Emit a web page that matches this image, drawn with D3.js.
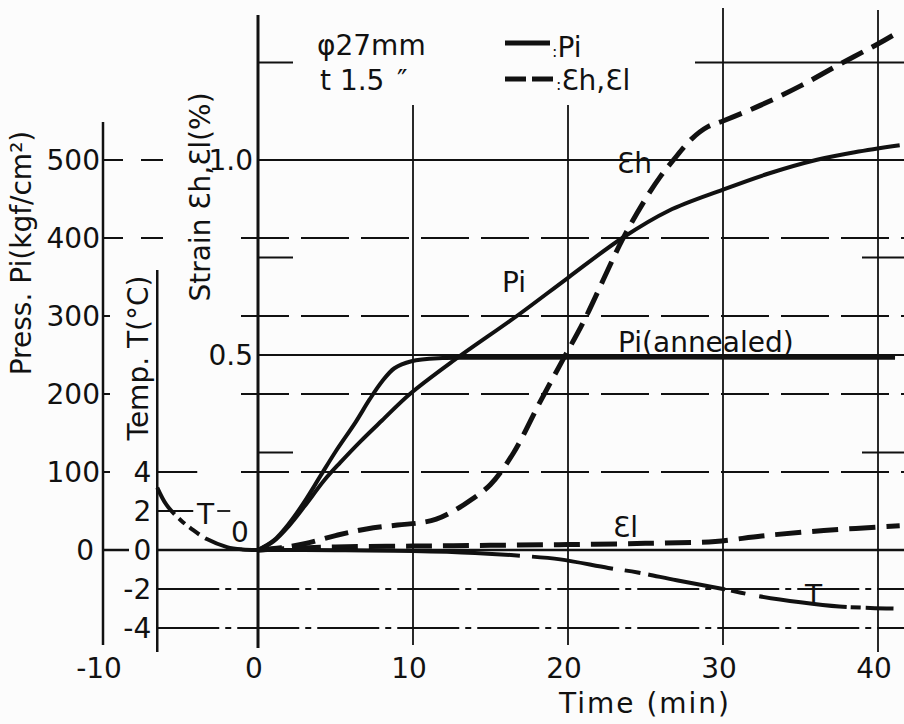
<!DOCTYPE html>
<html>
<head>
<meta charset="utf-8">
<script src="https://cdn.jsdelivr.net/npm/d3@7"></script>
<style>
	body { margin: 0; background: #fcfcfc; }
	svg text { font-family: "DejaVu Sans", sans-serif; fill: #111; font-size: 28px; }
</style>
</head>
<body>
<svg id="chart" width="904" height="724"></svg>
<script>
// tick values
var timeTicks = [-10, 0, 10, 20, 30, 40];
var pressTicks = [0, 100, 200, 300, 400, 500];
var tempTicks = [4, 2, 0, -2, -4];
var strainMajor = [0.5, 1.0];
var strainMinor = [0.25, 0.75, 1.25];

// Pi (kgf/cm2) vs time (min)
var piTime = [0, 1, 2, 3, 4.3, 5.3, 6.6, 8, 9.8, 12.7, 16.7, 20, 23.5, 26.5, 30, 33, 36, 38.5, 41.4];
var piVal  = [0, 11, 31, 56, 90, 112, 139, 166, 200, 244, 300, 349, 400, 435, 462, 483, 500, 510, 519];

// Pi (annealed)
var annTime = [0, 1, 2, 3, 4, 5, 6.3, 7.2, 8.0, 8.8, 9.9, 11.9, 14, 41.1];
var annVal  = [0, 12, 34, 62, 94, 126, 164, 193, 216, 233, 242, 246, 246.5, 246.5];

// hoop strain Eh (%)
var ehTime = [0, 1.5, 3, 5, 7, 9, 10.5, 11.5, 12.7, 13.8, 15, 16.5, 18.2, 19.7, 21, 23.5, 25, 26, 26.8, 28, 29, 30, 32.4, 35, 37.5, 40.1, 41.4];
var ehVal  = [0, 0.006, 0.016, 0.037, 0.054, 0.064, 0.07, 0.079, 0.102, 0.13, 0.168, 0.25, 0.38, 0.49, 0.585, 0.795, 0.9, 0.96, 1.0, 1.055, 1.085, 1.10, 1.14, 1.19, 1.245, 1.30, 1.33];

// axial strain El (%)
var elTime = [0, 2, 5, 10, 15, 20, 25, 29.5, 32.5, 36.5, 41.4];
var elVal  = [0, 0.004, 0.008, 0.01, 0.012, 0.014, 0.017, 0.022, 0.036, 0.05, 0.062];

// temperature T (deg C)
var tempTime = [-6.5, -5.9, -5.0, -4.2, -3.3, -2.0, -1.0, 0, 5, 10, 14, 17, 19.5, 22.6, 24.5, 27, 30, 32.2, 35, 37.5, 39.5, 41];
var tempVal  = [3.2, 2.31, 1.54, 1.03, 0.56, 0.15, 0.03, 0, -0.01, -0.05, -0.15, -0.3, -0.48, -0.92, -1.15, -1.55, -2.0, -2.35, -2.68, -2.9, -2.97, -3.0];

var svg = d3.select('#chart');
var ink = '#111';

// scales
var x = d3.scaleLinear().domain([-10, 40]).range([103, 878]);
var yP = d3.scaleLinear().domain([0, 500]).range([550, 160]);
var yS = d3.scaleLinear().domain([0, 1]).range([550, 160]);
var yT = d3.scaleLinear().domain([-4, 4]).range([628, 472]);

var right = 904;
var x0 = x(0);
var xPress = x(-10);
var xTemp = x(-6.5);

function hline(g, y, x1, x2, w, dash) {
	g.append('line')
		.attr('x1', x1).attr('x2', x2)
		.attr('y1', y).attr('y2', y)
		.attr('stroke', ink)
		.attr('stroke-width', w)
		.attr('stroke-dasharray', dash || null);
}
function vline(g, xv, y1, y2, w) {
	g.append('line')
		.attr('x1', xv).attr('x2', xv)
		.attr('y1', y1).attr('y2', y2)
		.attr('stroke', ink)
		.attr('stroke-width', w);
}

var grid = svg.append('g');

// horizontal grid
pressTicks.filter(function(d) { return d > 0 && d < 500; }).forEach(function(d) {
	hline(grid, yP(d), 241, right, 1.8, '48,12');
	hline(grid, yP(d), xPress, xPress + 7, 2);
});
[400, 500].forEach(function(d) {
	hline(grid, yP(d), xPress, xPress + 20, 2);
	hline(grid, yP(d), xPress + 38, xPress + 60, 2);
});
strainMajor.forEach(function(d) {
	hline(grid, yS(d), x0, right, 1.8);
});
strainMinor.forEach(function(d) {
	hline(grid, yS(d), x0, x0 + 35, 1.8);
	if (d < 1) hline(grid, yS(d), x(40) - 16, right, 1.8);
	else hline(grid, yS(d), 695, right, 1.8);
});
// zero line
hline(grid, yP(0), xPress, xPress + 26, 2.5);
hline(grid, yP(0), xTemp, right, 2.5);
// temperature ticks
hline(grid, yT(4), xTemp, xTemp + 40, 1.8);
hline(grid, yT(2), xTemp, xTemp + 36, 1.8);
hline(grid, yT(2), xTemp + 60, xTemp + 73, 1.8);
[-2, -4].forEach(function(d) {
	hline(grid, yT(d), xTemp, right, 1.8, '62,6,6,6');
});

// vertical lines
vline(grid, xPress, 122, 645, 2.5);
vline(grid, xTemp, 270, 652, 2.5);
vline(grid, x0, 15, 648, 3);
[10, 20].forEach(function(d) { vline(grid, x(d), 105, 645, 1.8); });
vline(grid, x(30), 8, 645, 1.8);
vline(grid, x(40), 10, 652, 1.8);

// tick labels
svg.append('g').selectAll('text')
	.data(pressTicks).enter()
	.append('text')
		.attr('x', function(d) { return d === 0 ? xPress - 9 : xPress - 3; })
		.attr('y', function(d) { return yP(d); })
		.attr('dy', '0.36em')
		.attr('text-anchor', 'end')
		.text(function(d) { return d; });

svg.append('g').selectAll('text')
	.data(tempTicks).enter()
	.append('text')
		.attr('x', xTemp - 6)
		.attr('y', function(d) { return yT(d); })
		.attr('dy', '0.36em')
		.attr('text-anchor', 'end')
		.text(function(d) { return d; });

svg.append('g').selectAll('text')
	.data(strainMajor).enter()
	.append('text')
		.attr('x', x0 - 5)
		.attr('y', function(d) { return yS(d); })
		.attr('dy', '0.36em')
		.attr('text-anchor', 'end')
		.text(function(d) { return d.toFixed(1); });

svg.append('g').selectAll('text')
	.data(timeTicks).enter()
	.append('text')
		.attr('x', function(d) { return x(d) - 4; })
		.attr('y', 678)
		.attr('text-anchor', 'middle')
		.text(function(d) { return d; });

svg.append('text')
	.attr('x', 645).attr('y', 713)
	.attr('text-anchor', 'middle')
	.attr('font-size', 30)
	.style('letter-spacing', '2px')
	.text('Time (min)');

// axis titles
function vtitle(tx, ty, s) {
	svg.append('text')
		.attr('transform', 'translate(' + tx + ',' + ty + ') rotate(-90)')
		.attr('text-anchor', 'middle')
		.text(s);
}
vtitle(31, 253, 'Press. Pi(kgf/cm²)');
vtitle(148, 358, 'Temp. T(°C)');
vtitle(210, 197, 'Strain Ɛh,Ɛl(%)');

// curves
function zip(t, v) { return t.map(function(d, i) { return [d, v[i]]; }); }

function curve(data, yScale, w, dash) {
	var line = d3.line()
		.x(function(d) { return x(d[0]); })
		.y(function(d) { return yScale(d[1]); })
		.curve(d3.curveCatmullRom.alpha(0.5));
	svg.append('path')
		.datum(data)
		.attr('fill', 'none')
		.attr('stroke', ink)
		.attr('stroke-width', w)
		.attr('stroke-linecap', 'butt')
		.attr('stroke-dasharray', dash || null)
		.attr('d', line);
}

curve(zip(piTime, piVal), yP, 4);
curve(zip(annTime, annVal), yP, 4);
curve(zip(ehTime, ehVal), yS, 5, '24,10');
curve(zip(elTime, elVal), yS, 5, '26,11');
var temp = zip(tempTime, tempVal);
curve(temp.filter(function(d) { return d[0] <= 0; }), yT, 4, '32,6,8,6,12,7,200');
curve(temp.filter(function(d) { return d[0] >= 0; }), yT, 4, '262,12,82,12,16,8,78,6,15,14,88,4,10,5,40');

// annotations
function label(tx, ty, s, size) {
	svg.append('text')
		.attr('x', tx).attr('y', ty)
		.attr('font-size', size || 28)
		.text(s);
}
label(317, 55, 'φ27mm');
label(320, 90, 't 1.5');
label(397, 90, '″');
label(502, 292, 'Pi');
label(618, 352, 'Pi(annealed)');
label(617, 173, 'Ɛh');
label(613, 537, 'Ɛl');
label(805, 605, 'T', 27);
label(197, 524, 'T', 27);
label(231, 542, '0', 27);

// legend
hline(svg, 43, 505, 550, 5);
hline(svg, 79, 505, 555, 5, '21,6');
svg.append('text').attr('x', 552).attr('y', 57)
	.call(function(t) {
		t.append('tspan').attr('font-size', 16).text(':');
		t.append('tspan').text('Pi');
	});
svg.append('text').attr('x', 556).attr('y', 90)
	.call(function(t) {
		t.append('tspan').attr('font-size', 16).text(':');
		t.append('tspan').text('Ɛh,Ɛl');
	});
</script>
</body>
</html>
